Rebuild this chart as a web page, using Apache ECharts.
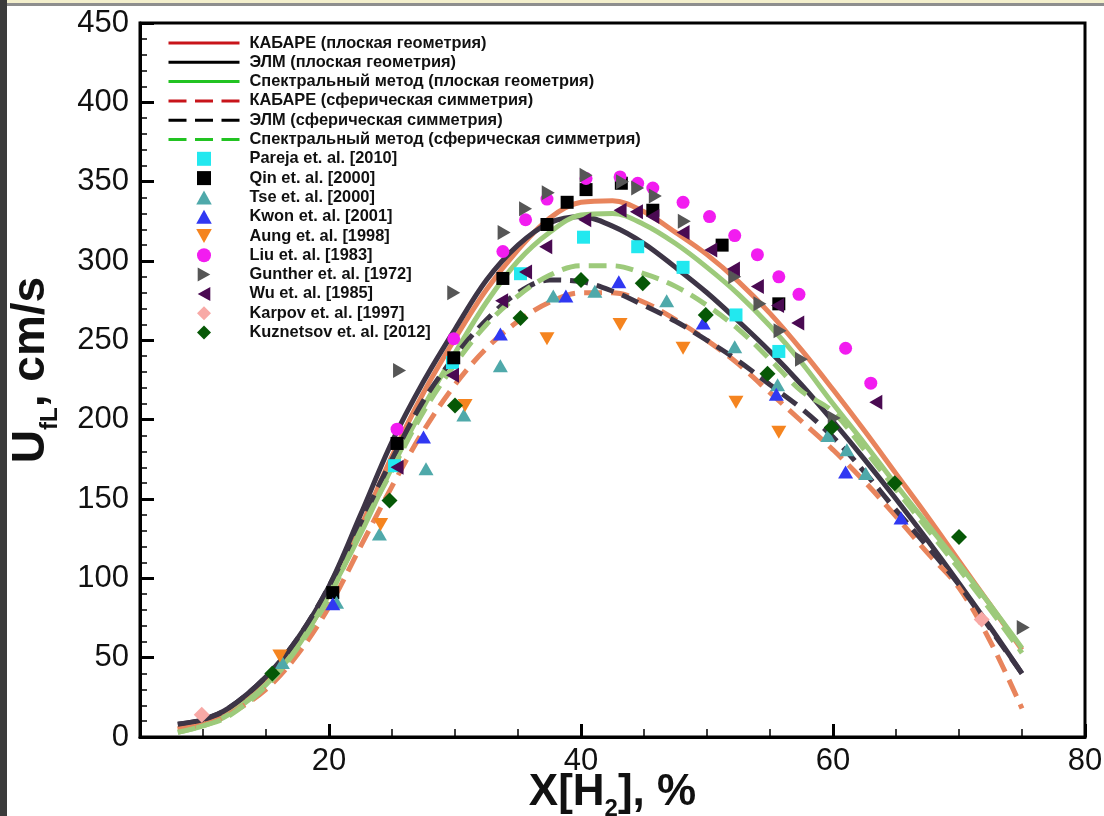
<!DOCTYPE html>
<html>
<head>
<meta charset="utf-8">
<script src="https://cdn.jsdelivr.net/npm/echarts@6/dist/echarts.min.js"></script>
<style>
  html, body { margin: 0; padding: 0; background: #ffffff; }
  #wrap { position: relative; width: 1104px; height: 816px; overflow: hidden; background: #ffffff; }
  #chart { position: absolute; left: 0; top: 0; width: 1104px; height: 816px; }
  #edgeLeft { position: absolute; left: 0; top: 0; width: 7px; height: 816px; background: #3b3b3b; }
  #edgeTop { position: absolute; left: 0; top: 0; width: 1104px; height: 3px; background: #f3efcc; }
  #edgeTop2 { position: absolute; left: 0; top: 3px; width: 1104px; height: 3px; background: #8e8e8e; }
</style>
</head>
<body>
<div id="wrap">
  <div id="chart"></div>
  <div id="edgeTop"></div>
  <div id="edgeTop2"></div>
  <div id="edgeLeft"></div>
</div>
<script>
// Hydrogen fraction, % (common abscissa of the computed curves)
const xGrid = [8, 10, 12, 15, 17.5, 20, 22.5, 25, 27.5, 30, 32.5, 35, 37.5, 40, 42.5, 45, 47.5, 50, 52.5, 55, 57.5, 60, 62.5, 65, 67.5, 70, 72.5, 75];

// Computed flame speed, cm/s
const kabareFlat   = [5, 9, 16, 35, 58, 90, 132, 177, 217, 251, 282, 307, 327, 337, 338, 331, 318, 304, 287, 267, 244, 219, 193, 166, 139, 111, 83, 55];
const elmFlat      = [8, 11, 18, 38, 62, 95, 140, 186, 224, 257, 288, 310, 324, 328, 322, 311, 296, 280, 262, 243, 222, 199, 175, 150, 124, 97, 69, 40];
const spectralFlat = [3, 7, 14, 33, 57, 90, 128, 170, 208, 242, 274, 300, 318, 329, 330, 323, 311, 296, 279, 259, 236, 210, 185, 159, 134, 109, 83, 56];
const kabareSph    = [5, 8, 14, 30, 52, 82, 120, 158, 193, 222, 245, 262, 274, 280, 280, 274, 263, 250, 235, 217, 199, 181, 161, 139, 116, 94, 60, 18];
const elmSph       = [8, 11, 18, 38, 62, 95, 135, 175, 212, 240, 263, 280, 288, 287, 281, 272, 262, 250, 237, 222, 207, 189, 167, 143, 120, 96, 68, 40];
const spectralSph  = [3, 7, 13, 32, 56, 88, 130, 168, 205, 235, 260, 278, 291, 297, 297, 292, 284, 272, 257, 238, 218, 205, 181, 156, 131, 106, 80, 53];

// Experimental data: [X(H2) %, U cm/s]
const pareja = [[25.2, 171], [29.8, 236], [35.2, 292], [40.2, 315], [44.5, 309], [48.1, 296], [52.3, 266], [55.7, 243]];
const qin = [[20.3, 91], [25.4, 185], [29.9, 239], [33.8, 289], [37.3, 323], [38.9, 337], [40.4, 345], [43.2, 349], [45.7, 332], [51.2, 310], [55.7, 273]];
const tse = [[16.3, 47], [20.6, 85], [24.0, 128], [27.7, 169], [30.7, 203], [33.6, 234], [37.8, 278], [41.1, 281], [46.8, 275], [52.2, 246], [55.6, 222], [59.6, 190], [61.1, 181], [62.6, 166]];
const kwon = [[20.3, 84], [27.5, 189], [33.6, 254], [38.8, 278], [43.0, 287], [49.7, 261], [55.5, 216], [61.0, 167], [65.4, 138]];
const aung = [[16.1, 51], [24.1, 134], [30.8, 209], [37.3, 251], [43.1, 260], [48.1, 245], [52.3, 211], [55.7, 192]];
const liu = [[25.4, 194], [29.9, 251], [33.8, 306], [35.6, 326], [37.3, 339], [40.4, 352], [43.1, 353], [44.5, 349], [45.7, 346], [48.1, 337], [50.2, 328], [52.2, 316], [54.0, 304], [55.7, 290], [57.3, 279], [61.0, 245], [63.0, 223]];
const gunther = [[25.6, 231], [29.9, 280], [33.9, 318], [35.6, 333], [37.4, 343], [40.4, 354], [43.3, 350], [44.5, 346], [45.9, 341], [48.2, 325], [52.2, 290], [54.2, 273], [55.8, 256], [57.5, 238], [60.1, 201], [75.1, 69]];
const wu = [[25.4, 170], [29.8, 228], [33.7, 275], [35.6, 293], [37.2, 309], [40.3, 326], [43.1, 332], [44.4, 331], [45.7, 328], [48.1, 318], [50.3, 307], [52.1, 295], [54.0, 284], [55.6, 272], [57.2, 261], [63.4, 211]];
const karpov = [[9.9, 14], [71.8, 74]];
const kuznetsov = [[15.5, 40], [24.8, 149], [30.0, 209], [35.2, 264], [40.0, 288], [44.9, 286], [49.9, 266], [54.8, 229], [59.9, 195], [64.9, 160], [70.0, 126]];

// Axis ticks
const xMajorTicks = [20, 40, 60, 80];
const xMinorTicks = [10, 15, 25, 30, 35, 45, 50, 55, 65, 70, 75];

const FONT = '"Liberation Sans", Arial, Helvetica, sans-serif';

const lineDefs = [
  { name: 'КАБАРЕ (плоская геометрия)', values: kabareFlat, color: '#e8845c', dashed: false, legendColor: '#c8141a' },
  { name: 'ЭЛМ (плоская геометрия)', values: elmFlat, color: '#3d3546', dashed: false, legendColor: '#000000' },
  { name: 'Спектральный метод (плоская геометрия)', values: spectralFlat, color: '#9dca7b', dashed: false, legendColor: '#22c322' },
  { name: 'КАБАРЕ (сферическая симметрия)', values: kabareSph, color: '#e8845c', dashed: true, legendColor: '#c8141a' },
  { name: 'ЭЛМ (сферическая симметрия)', values: elmSph, color: '#3d3546', dashed: true, legendColor: '#000000' },
  { name: 'Спектральный метод (сферическая симметрия)', values: spectralSph, color: '#9dca7b', dashed: true, legendColor: '#22c322' }
];

// Marker outlines
const SQUARE = 'path://M0,0 L10,0 L10,10 L0,10 Z';
const DIAMOND = 'path://M5,0 L10,5 L5,10 L0,5 Z';
const TRI_UP = 'path://M5,0 L10,9 L0,9 Z';
const TRI_DOWN = 'path://M0,0 L10,0 L5,9 Z';
const TRI_RIGHT = 'path://M0,0 L9,5 L0,10 Z';
const TRI_LEFT = 'path://M9,0 L0,5 L9,10 Z';

const pointDefs = [
  { name: 'Pareja et. al. [2010]', data: pareja, color: '#22e8ef', symbol: SQUARE, size: 13 },
  { name: 'Qin et. al. [2000]', data: qin, color: '#000000', symbol: SQUARE, size: 13 },
  { name: 'Tse et. al. [2000]', data: tse, color: '#4fa9aa', symbol: TRI_UP, size: [15, 13] },
  { name: 'Kwon et. al. [2001]', data: kwon, color: '#3038f2', symbol: TRI_UP, size: [15, 13] },
  { name: 'Aung et. al. [1998]', data: aung, color: '#f5841f', symbol: TRI_DOWN, size: [15, 13] },
  { name: 'Liu et. al. [1983]', data: liu, color: '#f21cf0', symbol: 'circle', size: 13 },
  { name: 'Gunther et. al. [1972]', data: gunther, color: '#565656', symbol: TRI_RIGHT, size: [13, 15] },
  { name: 'Wu et. al. [1985]', data: wu, color: '#4a0a52', symbol: TRI_LEFT, size: [13, 15] },
  { name: 'Karpov et. al. [1997]', data: karpov, color: '#f8a9a6', symbol: DIAMOND, size: 16 },
  { name: 'Kuznetsov et. al. [2012]', data: kuznetsov, color: '#065806', symbol: DIAMOND, size: 16 }
];

const series = [];
lineDefs.forEach(function (d) {
  series.push({
    name: d.name,
    type: 'line',
    xAxisIndex: 0,
    data: xGrid.map(function (x, i) { return [x, d.values[i]]; }),
    smooth: 0.35,
    symbol: 'none',
    lineStyle: { color: d.color, width: 5, type: d.dashed ? [18, 9] : 'solid', cap: 'butt' },
    itemStyle: { color: d.color },
    z: 2,
    silent: true
  });
});
pointDefs.forEach(function (d) {
  series.push({
    name: d.name,
    type: 'scatter',
    xAxisIndex: 0,
    data: d.data,
    symbol: d.symbol,
    symbolSize: d.size,
    itemStyle: { color: d.color, opacity: 1 },
    z: 3,
    silent: true
  });
});

const legendData = [];
lineDefs.forEach(function (d) {
  legendData.push({
    name: d.name,
    itemStyle: { color: d.legendColor, opacity: 0 },
    lineStyle: { color: d.legendColor, width: 3, opacity: 1, type: d.dashed ? [18, 8.5] : 'solid' }
  });
});
pointDefs.forEach(function (d) {
  legendData.push({ name: d.name });
});

const chart = echarts.init(document.getElementById('chart'), null, { renderer: 'canvas' });

chart.setOption({
  backgroundColor: '#ffffff',
  animation: false,
  grid: {
    left: 140, right: 19, top: 23, bottom: 79,
    show: true, borderColor: '#000000', borderWidth: 3, backgroundColor: '#ffffff',
    containLabel: false,
    outerBoundsMode: 'none'
  },
  legend: {
    orient: 'vertical',
    left: 162,
    top: 30,
    itemWidth: 71,
    itemHeight: 14,
    itemGap: 3.3,
    data: legendData,
    selectedMode: false,
    textStyle: { fontFamily: FONT, fontSize: 16.4, fontWeight: 'bold', color: '#111111', padding: [0, 0, 0, 5] }
  },
  xAxis: [
    {
      type: 'value', min: 5, max: 80, position: 'bottom',
      axisLine: { show: true, onZero: false, lineStyle: { color: '#000000', width: 3 } },
      axisTick: { show: true, inside: true, length: 13, customValues: xMajorTicks, lineStyle: { color: '#000000', width: 3 } },
      axisLabel: { show: true, customValues: xMajorTicks, fontFamily: FONT, fontSize: 31, color: '#111111', margin: 9 },
      splitLine: { show: false },
      name: '{x|X[H}{s|2}{x|], %}',
      nameLocation: 'middle',
      nameGap: 34,
      nameMoveOverlap: false,
      nameTextStyle: {
        fontFamily: FONT, fontWeight: 'bold', color: '#111111',
        rich: {
          x: { fontFamily: FONT, fontSize: 44, fontWeight: 'bold', color: '#111111', lineHeight: 48, verticalAlign: 'top' },
          s: { fontFamily: FONT, fontSize: 24, fontWeight: 'bold', color: '#111111', lineHeight: 24, padding: [26, 0, 0, 0], verticalAlign: 'top' }
        }
      }
    },
    {
      type: 'value', min: 5, max: 80, position: 'bottom',
      axisLine: { show: false, onZero: false },
      axisTick: { show: true, inside: true, length: 8, customValues: xMinorTicks, lineStyle: { color: '#000000', width: 1.5 } },
      axisLabel: { show: false },
      splitLine: { show: false }
    }
  ],
  yAxis: {
    type: 'value', min: 0, max: 450, interval: 50,
    axisLine: { show: true, onZero: false, lineStyle: { color: '#000000', width: 3 } },
    axisTick: { show: true, inside: true, length: 14, lineStyle: { color: '#000000', width: 3 } },
    minorTick: { show: true, splitNumber: 5, length: 7, lineStyle: { color: '#000000', width: 1.5 } },
    axisLabel: { fontFamily: FONT, fontSize: 31, color: '#111111', margin: 11 },
    splitLine: { show: false },
    name: '{u|U}{s|fL}{u|, cm/s}',
    nameLocation: 'middle',
    nameRotate: 90,
    nameGap: 82,
    nameTextStyle: {
      fontFamily: FONT, fontWeight: 'bold', color: '#111111',
      padding: [0, 0, 0, 20],
      rich: {
        u: { fontFamily: FONT, fontSize: 46, fontWeight: 'bold', color: '#111111', lineHeight: 50, verticalAlign: 'top' },
        s: { fontFamily: FONT, fontSize: 24, fontWeight: 'bold', color: '#111111', lineHeight: 24, padding: [30, 0, 0, 0], verticalAlign: 'top' }
      }
    }
  },
  series: series
});
</script>
</body>
</html>
